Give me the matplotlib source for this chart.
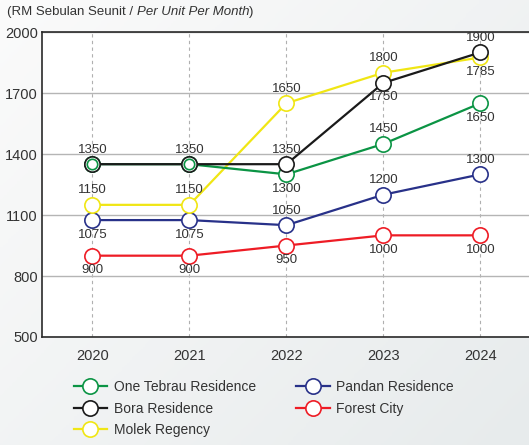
import numpy as np
import matplotlib
matplotlib.use("Agg")
import matplotlib.pyplot as plt

# ======================================================
# DATA
# ======================================================

years = [2020, 2021, 2022, 2023, 2024]

one_tebrau = [1350, 1350, 1300, 1450, 1650]
bora = [1350, 1350, 1350, 1750, 1900]
# last point is drawn near 1875 in the source, though labelled 1785
molek = [1150, 1150, 1650, 1800, 1875]
molek_labels = ["1150", "1150", "1650", "1800", "1785"]
pandan = [1075, 1075, 1050, 1200, 1300]
forest_city = [900, 900, 950, 1000, 1000]

# label placement per point: +1 above, -1 below, 0 none
one_tebrau_pos = [0, 0, -1, 1, -1]
bora_pos = [1, 1, 1, -1, 1]
molek_pos = [1, 1, 1, 1, -1]
pandan_pos = [-1, -1, 1, 1, 1]
forest_pos = [-1, -1, -1, -1, -1]

y_ticks = [500, 800, 1100, 1400, 1700, 2000]

# ======================================================
# STYLE
# ======================================================

plt.rcParams["font.family"] = ["Liberation Sans", "DejaVu Sans"]

GREEN = "#0b9444"
BLACK = "#1a1a1a"
YELLOW = "#f0e614"
NAVY = "#283189"
RED = "#ee1c25"
TEXT = "#333333"

fig = plt.figure(figsize=(5.29, 4.45), dpi=100)

# background gradient
bg = fig.add_axes([0, 0, 1, 1], zorder=-10)
gx, gy = np.meshgrid(np.linspace(0, 1, 200), np.linspace(0, 1, 200))
grad = 0.55 * gx + 0.45 * gy
bg.imshow(grad, cmap=matplotlib.colors.LinearSegmentedColormap.from_list(
    "bg", ["#fbfbfb", "#e7ebec"]), aspect="auto", extent=[0, 1, 0, 1],
    origin="upper")
bg.axis("off")

ax = fig.add_axes([0.0794, 0.2427, 0.9206, 0.6853])
ax.set_facecolor("white")

series = [
    ("Forest City", forest_city, [str(v) for v in forest_city], forest_pos, RED),
    ("Pandan Residence", pandan, [str(v) for v in pandan], pandan_pos, NAVY),
    ("Molek Regency", molek, molek_labels, molek_pos, YELLOW),
    ("One Tebrau Residence", one_tebrau, [str(v) for v in one_tebrau],
     one_tebrau_pos, GREEN),
    ("Bora Residence", bora, [str(v) for v in bora], bora_pos, BLACK),
]

handles = {}
for name, vals, labels, pos, col in series:
    h, = ax.plot(
        years, vals,
        color=col,
        linewidth=1.6,
        marker="o",
        markersize=11,
        markerfacecolor="white",
        markeredgecolor=col,
        markeredgewidth=1.2,
        label=name,
        zorder=3
    )
    handles[name] = h
    for x, v, lab, p in zip(years, vals, labels, pos):
        if p == 0:
            continue
        ax.annotate(
            lab,
            xy=(x, v),
            xytext=(0, 10.5 * p),
            textcoords="offset points",
            ha="center",
            va="center",
            fontsize=9.5,
            color=TEXT,
            zorder=5
        )

# green markers sitting inside the black ones
for x, g, b in zip(years, one_tebrau, bora):
    if g == b:
        ax.plot(x, g, marker="o", markersize=7.5, markerfacecolor="white",
                markeredgecolor=GREEN, markeredgewidth=1.2, zorder=4)

# ======================================================
# AXES
# ======================================================

ax.set_xlim(2019.48, 2024.5)
ax.set_ylim(500, 2000)
ax.set_xticks(years)
ax.set_yticks(y_ticks)
ax.tick_params(axis="both", length=0, labelsize=10.5, colors=TEXT)
ax.tick_params(axis="x", pad=9)
ax.tick_params(axis="y", pad=3)

ax.grid(axis="y", color="#b5b5b5", linewidth=1, linestyle="-", zorder=0)
ax.grid(axis="x", color="#b0b0b0", linewidth=0.8, linestyle=(0, (3, 3)),
        zorder=0)

ax.spines["right"].set_visible(False)
for s in ["left", "top", "bottom"]:
    ax.spines[s].set_color("#2a2a2a")
    ax.spines[s].set_linewidth(1.2)

# ======================================================
# TITLE
# ======================================================

t1 = fig.text(7 / 529, 1 - 12 / 445, "(RM Sebulan Seunit / ",
              fontsize=9.5, color=TEXT, va="center", ha="left")
t2 = fig.text(0, 0, "Per Unit Per Month", fontsize=9.5, color=TEXT,
              style="italic", va="center", ha="left")
t3 = fig.text(0, 0, ")", fontsize=9.5, color=TEXT, va="center", ha="left")

renderer = fig.canvas.get_renderer()
inv = fig.transFigure.inverted()
bb1 = t1.get_window_extent(renderer)
t2.set_position(inv.transform((bb1.x1, bb1.y0 + bb1.height / 2)))
bb2 = t2.get_window_extent(renderer)
t3.set_position(inv.transform((bb2.x1, bb1.y0 + bb1.height / 2)))

# ======================================================
# LEGEND
# ======================================================

order = ["One Tebrau Residence", "Bora Residence", "Molek Regency",
         "Pandan Residence", "Forest City"]

fig.legend(
    [handles[n] for n in order],
    order,
    loc="upper left",
    bbox_to_anchor=(0.139, 0.146),
    ncol=2,
    frameon=False,
    fontsize=10,
    handlelength=2.4,
    handletextpad=0.5,
    columnspacing=2.9,
    labelspacing=0.55,
    borderaxespad=0,
    borderpad=0,
    labelcolor=TEXT
)

fig.savefig("out.png", dpi=100)
